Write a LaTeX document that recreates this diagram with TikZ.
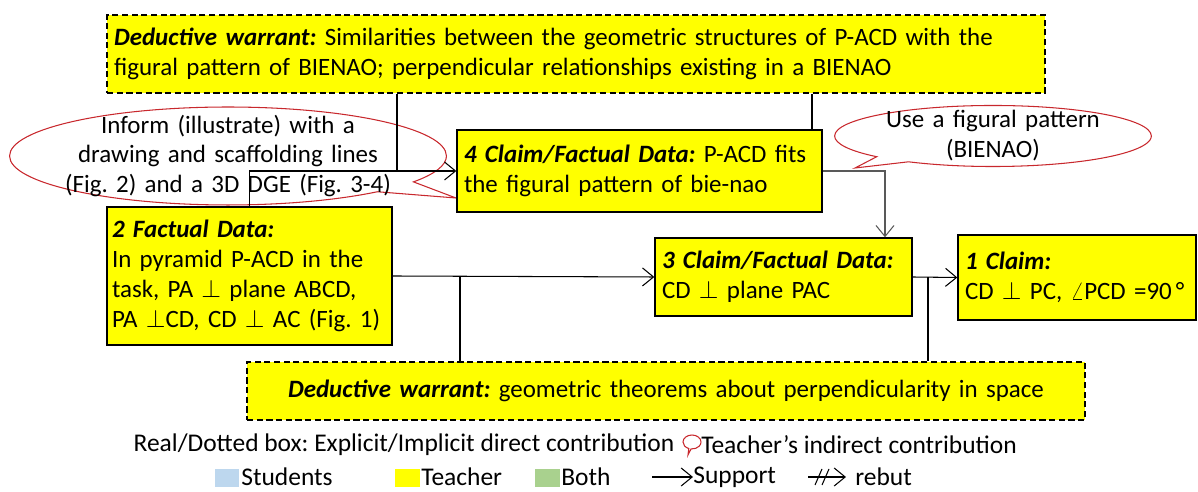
\documentclass[tikz,border=0pt]{standalone}
\usepackage{fontspec}
\setmainfont{Carlito}
\usetikzlibrary{arrows.meta,shapes.callouts}
\definecolor{lemon}{RGB}{255,255,0}
\definecolor{crimson}{RGB}{200,40,45}
\definecolor{sky}{RGB}{189,215,238}
\definecolor{leaf}{RGB}{169,209,142}
\frenchspacing
\tikzset{
  support/.style={-{Straight Barb[length=2.2mm,width=3.6mm]},line width=0.6pt},
  link/.style={line width=0.6pt},
  claim box/.style={draw,line width=0.8pt,fill=lemon,align=left,inner xsep=0.14cm,
    font=\fontsize{14.2}{17}\selectfont},
  warrant box/.style={claim box,dash pattern=on 3.5pt off 2pt},
  bubble/.style={ellipse callout,draw=crimson,line width=0.6pt,align=center,
    font=\fontsize{14.2}{17}\selectfont},
  swatch/.style={fill=#1,minimum width=0.5cm,minimum height=0.36cm,inner sep=0},
  key/.style={font=\fontsize{14.5}{17}\selectfont,anchor=west,inner sep=0},
}
\begin{document}
\begin{tikzpicture}[x=0.02cm,y=-0.02cm]
        \useasboundingbox (0,0) rectangle (1198,492);
        % teacher's indirect contributions
        \node[bubble,text width=6.8cm,inner xsep=-0.31cm,inner ysep=-0.13cm,
          callout absolute pointer={(456,198)}] (b1) at (228,156)
          {Inform (illustrate) with a\\drawing and scaffolding lines\\(Fig. 2) and a 3D DGE (Fig. 3-4)};
        \node[bubble,text width=4.4cm,inner xsep=0.04cm,inner ysep=-0.075cm,
          callout absolute pointer={(855,168)}] (b2) at (993,136)
          {Use a figural pattern\\(BIENAO)};
        % boxes
        \node[warrant box,text width=18.48cm,minimum height=1.56cm] (dw1) at (576,54)
          {\textbf{\textit{Deductive warrant:}} Similarities between the geometric structures of P-ACD with the\\figural pattern of BIENAO; perpendicular relationships existing in a BIENAO};
        \node[claim box,text width=7.02cm,minimum height=1.64cm] (c4) at (639.5,171)
          {\textbf{\textit{4 Claim/Factual Data:}} P-ACD fits\\the figural pattern of bie-nao};
        \node[claim box,text width=5.5cm,inner xsep=0.1cm,minimum height=2.76cm] (f2) at (249.5,276)
          {\textbf{\textit{2 Factual Data:}}\\In pyramid P-ACD in the\\task, PA $\perp$ plane ABCD,\\PA $\perp$CD, CD $\perp$ AC (Fig. 1)};
        \node[claim box,text width=4.86cm,minimum height=1.56cm] (c3) at (783.5,277)
          {\textbf{\textit{3 Claim/Factual Data:}}\\CD $\perp$ plane PAC};
        \node[claim box,text width=4.48cm,minimum height=1.7cm] (c1) at (1077,277.5)
          {\textbf{\textit{1 Claim:}}\\CD $\perp$ PC, $\angle$PCD =90\,°};
        \node[warrant box,align=center,text width=16.48cm,minimum height=1.16cm] (dw2) at (666,391)
          {\textbf{\textit{Deductive warrant:}} geometric theorems about perpendicularity in space};
        % connectors
        \draw[support] (f2.east) -- (c3.west);
        \draw[link] (dw2.north -| 460,0) -- (460,0 |- f2.east);
        \draw[support] (c3.east) -- (c1.west);
        \draw[link] (dw2.north -| 928,0) -- (928,0 |- c3.east);
        \draw[support] (f2.north) |- (c4.west);
        \draw[link] (dw1.south -| 397,0) -- (397,0 |- c4.west);
        \draw[link] (dw1.south -| 812,0) -- (c4.north -| 812,0);
        \draw[support,black!65] (c4.east) -| (c3.north -| 885,0);
        % legend
        \node[key,anchor=center] (k1) at (404,445) {Real/Dotted box: Explicit/Implicit direct contribution};
        \node[bubble,minimum width=0.36cm,minimum height=0.28cm,inner sep=0,
          callout absolute pointer={(688,455)}] (lb) at (692,442) {};
        \node[key] (k2) at (701,445) {Teacher’s indirect contribution};
        \node[swatch=sky] (s1) at (227,478) {};
        \node[key] (k3) at (241,477) {Students};
        \node[swatch=lemon] (s2) at (407,478) {};
        \node[key] (k4) at (421,477) {Teacher};
        \node[swatch=leaf] (s3) at (547,478) {};
        \node[key] (k5) at (561,477) {Both};
        \coordinate (a1) at (652,477);
        \node[key] (k6) at (693,477) {Support};
        \draw[support] (a1) -- (k6.west);
        \coordinate (r1) at (808,477);
        \coordinate (r2) at (846,477);
        \node[key] (k7) at (855,477) {rebut};
        \draw[support] (r1) -- (r2);
        \draw[link] (815,485) -- (822,469) (822,485) -- (829,469);
      \end{tikzpicture}
\end{document}
